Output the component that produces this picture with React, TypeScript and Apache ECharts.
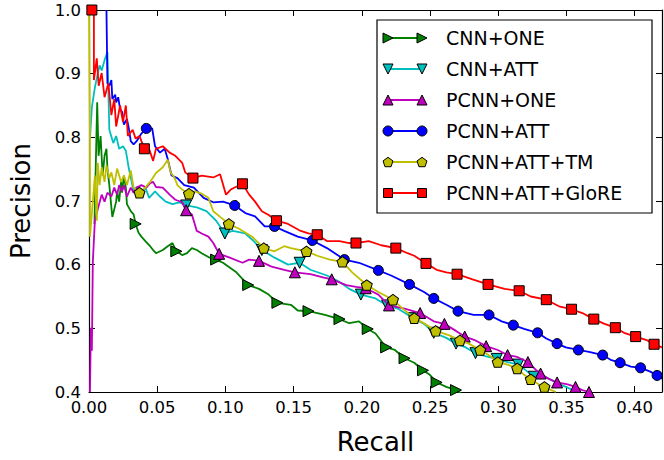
import React, { useEffect, useRef } from "react";
import * as echarts from "echarts";

// ---------- data: [recall, precision] ----------
const seriesNames = ["CNN+ONE", "CNN+ATT", "PCNN+ONE", "PCNN+ATT", "PCNN+ATT+TM", "PCNN+ATT+GloRE"];
const seriesColors = ["#008000", "#00BFBF", "#BF00BF", "#0000FF", "#BFBF00", "#FF0000"];

const cnnOne = [
  [0.004, 0.664], [0.006, 0.855], [0.007, 0.771], [0.0085, 0.802], [0.010, 0.740], [0.0114, 0.771],
  [0.0128, 0.782], [0.0135, 0.751], [0.0149, 0.725], [0.0164, 0.690], [0.0171, 0.675], [0.0199, 0.699],
  [0.0206, 0.715], [0.0221, 0.699], [0.0235, 0.730], [0.0242, 0.713], [0.0256, 0.740], [0.027, 0.721],
  [0.0278, 0.695], [0.0306, 0.684], [0.0327, 0.679], [0.0342, 0.664], [0.0363, 0.650], [0.0384, 0.644],
  [0.0413, 0.637], [0.0448, 0.629], [0.047, 0.623], [0.0491, 0.618], [0.0541, 0.623], [0.0577, 0.629],
  [0.0612, 0.634], [0.064, 0.621], [0.0683, 0.615], [0.0719, 0.618], [0.0754, 0.626], [0.079, 0.623],
  [0.0826, 0.618], [0.0875, 0.612], [0.0932, 0.608], [0.0982, 0.603], [0.1075, 0.589], [0.1167, 0.568],
  [0.1246, 0.562], [0.1317, 0.553], [0.1381, 0.540], [0.148, 0.537], [0.153, 0.528], [0.1609, 0.527],
  [0.173, 0.521], [0.1836, 0.5145], [0.1907, 0.508], [0.1979, 0.511], [0.2043, 0.499], [0.21, 0.492],
  [0.2178, 0.470], [0.2242, 0.466], [0.2313, 0.453], [0.2384, 0.446], [0.2448, 0.434], [0.2498, 0.427],
  [0.2548, 0.415], [0.2619, 0.408], [0.269, 0.403], [0.2726, 0.398],
];
const cnnOneMarks = [
  [0.0342, 0.664], [0.064, 0.621], [0.0932, 0.608], [0.1167, 0.568], [0.1381, 0.540], [0.1609, 0.527],
  [0.1836, 0.5145], [0.2043, 0.499], [0.2178, 0.470], [0.2313, 0.453], [0.2448, 0.434], [0.2548, 0.415],
  [0.269, 0.403],
];

const cnnAtt = [
  [0.0007, 0.798], [0.0021, 0.847], [0.0043, 0.878], [0.0057, 0.893], [0.0078, 0.913], [0.0093, 0.905],
  [0.0114, 0.921], [0.0135, 0.934], [0.0149, 0.812], [0.0178, 0.791], [0.0199, 0.802], [0.0221, 0.782],
  [0.0249, 0.786], [0.027, 0.779], [0.0292, 0.751], [0.0313, 0.730], [0.0327, 0.715], [0.0349, 0.722],
  [0.0377, 0.710], [0.0413, 0.721], [0.0441, 0.705], [0.0484, 0.715], [0.052, 0.707], [0.0562, 0.699],
  [0.0612, 0.695], [0.0662, 0.698], [0.0712, 0.693], [0.079, 0.690], [0.0861, 0.684], [0.0932, 0.669],
  [0.0996, 0.649], [0.1053, 0.653], [0.1146, 0.649], [0.1203, 0.638], [0.1267, 0.623], [0.136, 0.611],
  [0.1459, 0.600], [0.1544, 0.603], [0.1623, 0.592], [0.1744, 0.583], [0.1836, 0.573], [0.1907, 0.562],
  [0.1993, 0.553], [0.21, 0.547], [0.2185, 0.536], [0.2263, 0.531], [0.2377, 0.516], [0.2456, 0.507],
  [0.2527, 0.493], [0.2619, 0.485], [0.269, 0.476], [0.2762, 0.470], [0.2833, 0.461], [0.2904, 0.4565],
  [0.2989, 0.452], [0.3068, 0.447], [0.3146, 0.443], [0.3203, 0.434], [0.326, 0.424], [0.3352, 0.423],
  [0.3423, 0.415], [0.3495, 0.408], [0.358, 0.400],
];
const cnnAttMarks = [
  [0.0712, 0.693], [0.0996, 0.649], [0.1267, 0.623], [0.1544, 0.603], [0.1993, 0.553], [0.2185, 0.536],
  [0.2377, 0.516], [0.2527, 0.493], [0.269, 0.476], [0.2833, 0.461], [0.2989, 0.452], [0.3146, 0.443],
  [0.326, 0.424],
];

const pcnnOne = [
  [0.0007, 0.400], [0.0014, 0.501], [0.0021, 0.465], [0.0028, 0.604], [0.0043, 0.669], [0.0064, 0.687],
  [0.0093, 0.710], [0.0114, 0.699], [0.0135, 0.713], [0.0164, 0.707], [0.0185, 0.721], [0.0206, 0.710],
  [0.0221, 0.725], [0.0242, 0.715], [0.0256, 0.725], [0.0278, 0.707], [0.0306, 0.721], [0.0327, 0.713],
  [0.0349, 0.721], [0.0384, 0.725], [0.042, 0.721], [0.0448, 0.728], [0.047, 0.730], [0.0491, 0.722],
  [0.0541, 0.721], [0.0591, 0.710], [0.0633, 0.702], [0.0683, 0.698], [0.0712, 0.6855], [0.0754, 0.679],
  [0.079, 0.653], [0.0826, 0.649], [0.0875, 0.644], [0.0911, 0.634], [0.0954, 0.617], [0.1032, 0.611],
  [0.1125, 0.603], [0.1174, 0.608], [0.1246, 0.606], [0.1338, 0.597], [0.1431, 0.592], [0.1509, 0.588],
  [0.1623, 0.585], [0.1715, 0.580], [0.1779, 0.577], [0.1886, 0.568], [0.1957, 0.565], [0.2028, 0.563],
  [0.2121, 0.553], [0.2199, 0.536], [0.2313, 0.531], [0.2427, 0.524], [0.2527, 0.511], [0.2605, 0.507],
  [0.269, 0.496], [0.2754, 0.487], [0.2833, 0.481], [0.2911, 0.472], [0.2996, 0.466], [0.3068, 0.458],
  [0.3139, 0.455], [0.3217, 0.447], [0.3274, 0.435], [0.331, 0.429], [0.3367, 0.421], [0.3431, 0.415],
  [0.3509, 0.412], [0.3566, 0.408], [0.3616, 0.403], [0.3665, 0.400],
];
const pcnnOneMarks = [
  [0.0712, 0.6855], [0.0954, 0.617], [0.1246, 0.606], [0.1509, 0.588], [0.1779, 0.577], [0.2028, 0.563],
  [0.2199, 0.536], [0.2427, 0.524], [0.2605, 0.507], [0.2754, 0.487], [0.2911, 0.472], [0.3068, 0.458],
  [0.3217, 0.447], [0.331, 0.429], [0.3431, 0.415], [0.3566, 0.408], [0.3665, 0.400],
];

const pcnnAtt = [
  [0.0128, 1.0], [0.0135, 0.885], [0.0149, 0.881], [0.0164, 0.890], [0.0171, 0.860], [0.0192, 0.867],
  [0.0199, 0.855], [0.0214, 0.863], [0.0228, 0.844], [0.0242, 0.840], [0.0256, 0.820], [0.0278, 0.829],
  [0.0292, 0.814], [0.0306, 0.794], [0.0327, 0.789], [0.0349, 0.794], [0.0384, 0.806], [0.042, 0.814],
  [0.0463, 0.814], [0.0484, 0.786], [0.052, 0.776], [0.0555, 0.782], [0.0577, 0.766], [0.0605, 0.740],
  [0.0648, 0.736], [0.0698, 0.725], [0.0769, 0.721], [0.084, 0.705], [0.0911, 0.698], [0.0982, 0.699],
  [0.1068, 0.693], [0.1146, 0.681], [0.1217, 0.676], [0.1288, 0.660], [0.136, 0.660], [0.1431, 0.653],
  [0.153, 0.644], [0.1637, 0.638], [0.1744, 0.626], [0.1872, 0.608], [0.1979, 0.603], [0.2121, 0.591],
  [0.2214, 0.583], [0.2349, 0.569], [0.2456, 0.557], [0.2527, 0.547], [0.2619, 0.537], [0.2705, 0.527],
  [0.2819, 0.521], [0.2932, 0.521], [0.3025, 0.511], [0.311, 0.505], [0.3189, 0.499], [0.3288, 0.493],
  [0.3352, 0.484], [0.3431, 0.476], [0.3495, 0.470], [0.3587, 0.466], [0.3665, 0.463], [0.3765, 0.458],
  [0.3829, 0.450], [0.3893, 0.446], [0.3972, 0.440], [0.4043, 0.438], [0.4114, 0.432], [0.4164, 0.426],
  [0.42, 0.421],
];
const pcnnAttMarks = [
  [0.042, 0.814], [0.1068, 0.693], [0.136, 0.660], [0.1637, 0.638], [0.1872, 0.608], [0.2121, 0.591],
  [0.2349, 0.569], [0.2527, 0.547], [0.2705, 0.527], [0.2932, 0.521], [0.311, 0.505], [0.3288, 0.493],
  [0.3431, 0.476], [0.3587, 0.466], [0.3765, 0.458], [0.3893, 0.446], [0.4043, 0.438], [0.4164, 0.426],
];

const pcnnAttTm = [
  [0.0, 1.0], [0.0007, 0.802], [0.0007, 0.644], [0.0028, 0.699], [0.0043, 0.740], [0.0057, 0.669],
  [0.0064, 0.760], [0.0078, 0.725], [0.0093, 0.753], [0.0114, 0.730], [0.0128, 0.756], [0.0149, 0.736],
  [0.0164, 0.745], [0.0185, 0.725], [0.0206, 0.751], [0.0235, 0.730], [0.0256, 0.740], [0.0278, 0.725],
  [0.0306, 0.748], [0.0327, 0.721], [0.037, 0.713], [0.0399, 0.718], [0.0448, 0.730], [0.0491, 0.744],
  [0.0541, 0.753], [0.0577, 0.765], [0.0598, 0.745], [0.0626, 0.737], [0.0648, 0.725], [0.0683, 0.718],
  [0.0733, 0.7115], [0.0776, 0.715], [0.0826, 0.7115], [0.0875, 0.705], [0.0911, 0.684], [0.0961, 0.675],
  [0.1025, 0.664], [0.1103, 0.656], [0.1196, 0.644], [0.1281, 0.626], [0.1359, 0.621], [0.1431, 0.629],
  [0.148, 0.626], [0.1594, 0.621], [0.1673, 0.614], [0.1765, 0.608], [0.1858, 0.6045], [0.1929, 0.588],
  [0.2036, 0.568], [0.2121, 0.557], [0.2228, 0.545], [0.2299, 0.531], [0.2384, 0.516], [0.2463, 0.507],
  [0.2541, 0.496], [0.2641, 0.489], [0.2719, 0.481], [0.2783, 0.476], [0.2868, 0.466], [0.294, 0.4565],
  [0.2996, 0.447], [0.3068, 0.443], [0.3139, 0.437], [0.3189, 0.427], [0.3238, 0.420], [0.3295, 0.412],
  [0.3338, 0.408], [0.3388, 0.403], [0.3423, 0.400],
];
const pcnnAttTmMarks = [
  [0.037, 0.713], [0.0733, 0.7115], [0.1025, 0.664], [0.1281, 0.626], [0.1594, 0.621], [0.1858, 0.6045],
  [0.2036, 0.568], [0.2228, 0.545], [0.2384, 0.516], [0.2541, 0.496], [0.2719, 0.481], [0.2868, 0.466],
  [0.2996, 0.447], [0.3139, 0.437], [0.3238, 0.420], [0.3338, 0.408],
];

const pcnnAttGlore = [
  [0.0021, 1.0], [0.0036, 1.0], [0.0036, 0.890], [0.0057, 0.924], [0.0071, 0.881], [0.0093, 0.901],
  [0.0114, 0.863], [0.0142, 0.885], [0.0164, 0.835], [0.0185, 0.860], [0.0199, 0.817], [0.0228, 0.850],
  [0.0249, 0.824], [0.027, 0.850], [0.0285, 0.802], [0.032, 0.812], [0.0342, 0.798], [0.037, 0.802],
  [0.0406, 0.782], [0.0434, 0.786], [0.047, 0.763], [0.0491, 0.782], [0.0541, 0.786], [0.0591, 0.776],
  [0.0633, 0.771], [0.0683, 0.760], [0.0705, 0.745], [0.0762, 0.736], [0.0826, 0.740], [0.0911, 0.737],
  [0.0961, 0.742], [0.1004, 0.710], [0.1039, 0.718], [0.1075, 0.722], [0.1125, 0.727], [0.1174, 0.710],
  [0.1217, 0.699], [0.1267, 0.684], [0.1317, 0.678], [0.1374, 0.669], [0.1459, 0.664], [0.1552, 0.653],
  [0.1609, 0.649], [0.1673, 0.647], [0.1744, 0.637], [0.1836, 0.637], [0.1907, 0.634], [0.1957, 0.634],
  [0.205, 0.637], [0.2142, 0.6305], [0.2249, 0.626], [0.2335, 0.618], [0.2384, 0.614], [0.247, 0.602],
  [0.2548, 0.592], [0.2619, 0.588], [0.2698, 0.585], [0.2811, 0.577], [0.2925, 0.569], [0.3046, 0.562],
  [0.3153, 0.559], [0.3238, 0.550], [0.3352, 0.545], [0.3452, 0.534], [0.3537, 0.530], [0.3616, 0.524],
  [0.370, 0.5145], [0.3779, 0.507], [0.3858, 0.501], [0.3922, 0.493], [0.4007, 0.487], [0.4093, 0.481],
  [0.4142, 0.475], [0.42, 0.470],
];
const pcnnAttGloreMarks = [
  [0.0021, 1.0], [0.0406, 0.782], [0.0762, 0.736], [0.1125, 0.727], [0.1374, 0.669], [0.1673, 0.647],
  [0.1957, 0.634], [0.2249, 0.626], [0.247, 0.602], [0.2698, 0.585], [0.2925, 0.569], [0.3153, 0.559],
  [0.3352, 0.545], [0.3537, 0.530], [0.370, 0.5145], [0.3858, 0.501], [0.4007, 0.487], [0.4142, 0.475],
];

const xTickStep = 0.05;
const yTickStep = 0.1;

// ---------- styling ----------
const FONT = "DejaVu Sans";
const lines = [cnnOne, cnnAtt, pcnnOne, pcnnAtt, pcnnAttTm, pcnnAttGlore];
const marks = [cnnOneMarks, cnnAttMarks, pcnnOneMarks, pcnnAttMarks, pcnnAttTmMarks, pcnnAttGloreMarks];
const markerKinds = ["triRight", "triDown", "triUp", "circle", "pentagon", "square"];

const symbolFor: Record<string, { symbol: string; size: number | number[] }> = {
  triRight: { symbol: "path://M0,0L2,1L0,2Z", size: 11 },
  triDown: { symbol: "path://M0,0L2,0L1,2Z", size: 11 },
  triUp: { symbol: "path://M1,0L2,2L0,2Z", size: 11 },
  circle: { symbol: "circle", size: 10 },
  pentagon: { symbol: "path://M0,-1L0.951,-0.309L0.588,0.809L-0.588,0.809L-0.951,-0.309Z", size: [11, 10.5] },
  square: { symbol: "rect", size: 10 },
};

function legendMarker(kind: string, cx: number, cy: number, color: string) {
  const s = 10;
  const h = s / 2;
  const style = { fill: color, stroke: "#000", lineWidth: 1 };
  if (kind === "circle") return { type: "circle", shape: { cx, cy, r: h }, style };
  if (kind === "square") return { type: "rect", shape: { x: cx - h + 0.5, y: cy - h + 0.5, width: s - 1, height: s - 1 }, style };
  let pts: number[][] = [];
  if (kind === "triRight") pts = [[cx - h, cy - h], [cx + h, cy], [cx - h, cy + h]];
  if (kind === "triDown") pts = [[cx - h, cy - h], [cx + h, cy - h], [cx, cy + h]];
  if (kind === "triUp") pts = [[cx, cy - h], [cx + h, cy + h], [cx - h, cy + h]];
  if (kind === "pentagon") {
    const r = 5.2;
    pts = [0, 1, 2, 3, 4].map((k) => {
      const a = -Math.PI / 2 + (k * 2 * Math.PI) / 5;
      return [cx + r * Math.cos(a), cy + 0.5 + r * Math.sin(a)];
    });
  }
  return { type: "polygon", shape: { points: pts }, style };
}

export default function App() {
  const ref = useRef<HTMLDivElement>(null);
  useEffect(() => {
    if (!ref.current) return;
    const chart = echarts.init(ref.current, undefined, { renderer: "svg" });

    const series: any[] = [];
    lines.forEach((data, i) => {
      series.push({
        type: "line",
        name: seriesNames[i],
        data,
        showSymbol: false,
        symbol: "none",
        lineStyle: { color: seriesColors[i], width: 1.8 },
        itemStyle: { color: seriesColors[i] },
        z: 2 + i * 2,
        silent: true,
      });
      const sym = symbolFor[markerKinds[i]];
      series.push({
        type: "scatter",
        name: seriesNames[i] + " markers",
        data: marks[i],
        symbol: sym.symbol,
        symbolSize: sym.size,
        itemStyle: { color: seriesColors[i], borderColor: "#000", borderWidth: 1, opacity: 1 },
        z: 3 + i * 2,
        silent: true,
      });
    });

    const legendGraphics: any[] = [
      {
        type: "rect",
        shape: { x: 377, y: 20, width: 275, height: 193 },
        style: { fill: "#fff", stroke: "#000", lineWidth: 1.2 },
        z: 100,
      },
    ];
    seriesNames.forEach((name, i) => {
      const y = 38 + 31 * i;
      legendGraphics.push({
        type: "line",
        shape: { x1: 388, y1: y, x2: 422, y2: y },
        style: { stroke: seriesColors[i], lineWidth: 1.8 },
        z: 101,
      });
      const m1: any = legendMarker(markerKinds[i], 388, y, seriesColors[i]);
      const m2: any = legendMarker(markerKinds[i], 422, y, seriesColors[i]);
      m1.z = 102;
      m2.z = 102;
      legendGraphics.push(m1, m2);
      legendGraphics.push({
        type: "text",
        x: 446,
        y: y,
        style: {
          text: name,
          fill: "#000",
          fontSize: 19,
          fontFamily: FONT,
          verticalAlign: "middle",
          align: "left",
        },
        z: 102,
      });
    });

    const axisCommon = {
      type: "value",
      axisLine: { show: true, onZero: false, lineStyle: { color: "#000", width: 1.2 } },
      axisTick: { show: true, inside: true, length: 6, lineStyle: { color: "#000", width: 1 } },
      splitLine: { show: false },
    };

    chart.setOption({
      animation: false,
      backgroundColor: "#fff",
      grid: { left: 72, right: 2, top: 10, bottom: 57, containLabel: false },
      xAxis: [
        {
          ...axisCommon,
          position: "bottom",
          min: 0,
          max: 0.42,
          interval: xTickStep,
          name: "Recall",
          nameLocation: "middle",
          nameGap: 37,
          nameTextStyle: { fontSize: 26, fontFamily: FONT, color: "#000" },
          axisLabel: {
            show: true,
            margin: 7,
            fontSize: 16.5,
            fontFamily: FONT,
            color: "#000",
            showMaxLabel: false,
            formatter: (v: number) => v.toFixed(2),
          },
        },
        {
          ...axisCommon,
          position: "top",
          min: 0,
          max: 0.42,
          interval: xTickStep,
          axisLabel: { show: false },
        },
      ],
      yAxis: [
        {
          ...axisCommon,
          position: "left",
          min: 0.4,
          max: 1.0,
          interval: yTickStep,
          name: "Precision",
          nameLocation: "middle",
          nameGap: 55,
          nameTextStyle: { fontSize: 26, fontFamily: FONT, color: "#000" },
          axisLabel: {
            show: true,
            margin: 8,
            fontSize: 16.5,
            fontFamily: FONT,
            color: "#000",
            formatter: (v: number) => v.toFixed(1),
          },
        },
        {
          ...axisCommon,
          position: "right",
          min: 0.4,
          max: 1.0,
          interval: yTickStep,
          axisLabel: { show: false },
        },
      ],
      series,
      graphic: legendGraphics,
    });

    return () => chart.dispose();
  }, []);

  return (
    <div
      ref={ref}
      style={{ position: "fixed", left: 0, top: 0, width: 664, height: 460, background: "#fff" }}
    />
  );
}
